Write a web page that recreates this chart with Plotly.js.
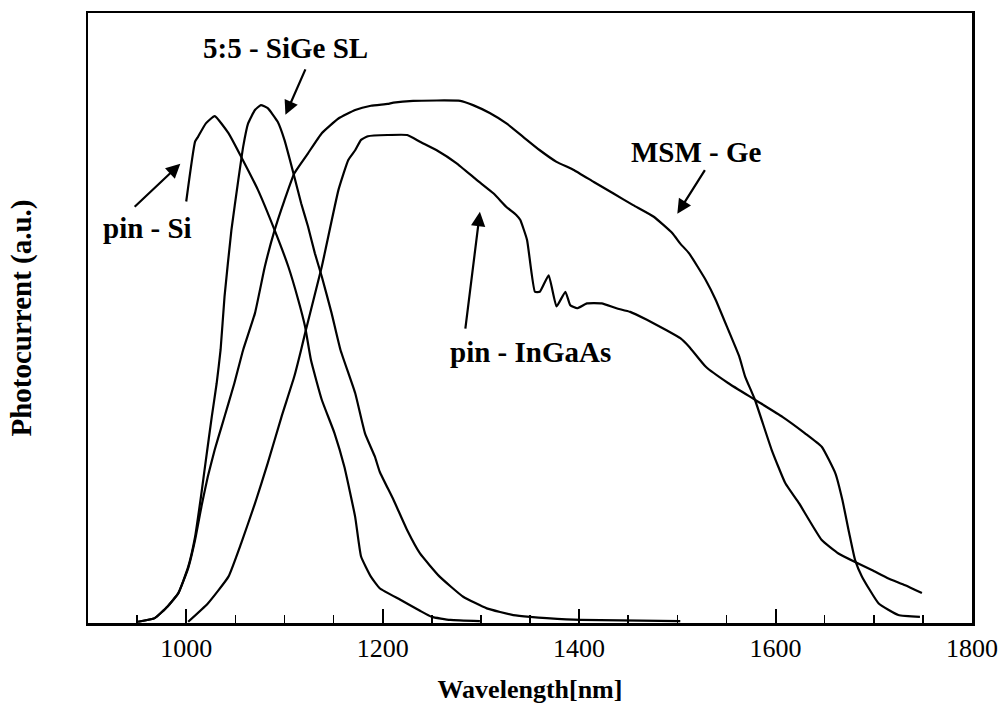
<!DOCTYPE html>
<html>
<head>
<meta charset="utf-8">
<script src="https://cdn.plot.ly/plotly-3.0.1.min.js"></script>
<style>
html,body{margin:0;padding:0;background:#fff;}
#wrap{position:relative;width:1004px;height:722px;}
#chart,#labels{position:absolute;left:0;top:0;width:1004px;height:722px;}
#labels{pointer-events:none;}
</style>
</head>
<body>
<div id="wrap"><div id="chart"></div><div id="labels"></div></div>
<script>
// pin - Si
const pinSiX = [1000,1009,1012,1020,1029,1043,1056,1073,1090,1104,1114,1121,1127,1138,1151,1161,1172,1178,1188,1197,1218,1238,1250,1269,1299];
const pinSiY = [69.1,78.9,79.7,81.9,83.1,80.3,76.4,71.0,64.4,58.4,53.0,48.6,43.1,36.6,31.1,25.6,17.4,10.9,7.6,5.7,3.8,2.0,1.0,0.5,0.3];

// 5:5 - SiGe SL
const sigeX = [951,968,981,992,1002,1009,1015,1020,1026,1031,1035,1039,1046,1053,1058,1063,1070,1076,1083,1093,1100,1110,1117,1124,1131,1138,1148,1157,1172,1182,1192,1197,1211,1225,1238,1258,1282,1306,1333,1350,1367,1401,1503];
const sigeY = [0.2,0.8,2.7,4.9,9.2,14.1,20.7,26.7,33.8,39.3,44.8,53.5,64.4,72.6,78.1,81.9,84.1,84.9,84.4,82.2,79.2,73.2,68.8,65.0,60.6,56.8,50.8,44.8,37.7,31.1,27.3,24.8,20.2,15.2,11.4,7.6,4.3,2.4,1.3,1.0,0.8,0.5,0.3];

// MSM - Ge
const msmX = [951,968,981,992,1002,1009,1016,1022,1029,1036,1043,1049,1058,1070,1080,1090,1100,1110,1124,1138,1155,1172,1188,1205,1211,1231,1279,1292,1309,1326,1343,1360,1377,1394,1415,1435,1455,1476,1495,1503,1512,1529,1539,1552,1563,1569,1579,1596,1610,1624,1647,1664,1681,1698,1715,1732,1749];
const msmY = [0.2,0.8,2.7,4.9,9.0,13.6,19.5,24.0,28.4,32.2,36.0,39.3,44.8,50.8,58.4,64.4,69.3,73.7,77.0,80.3,82.7,84.1,84.8,85.1,85.3,85.6,85.6,84.9,83.6,81.9,79.7,77.5,75.6,74.3,72.3,70.4,68.5,66.6,63.9,62.2,60.6,56.2,53.0,48.0,43.7,40.4,36.6,28.4,22.9,19.6,13.6,11.4,10.0,8.7,7.3,6.2,4.9];

// pin - InGaAs
const ingaasX = [1002,1022,1043,1056,1070,1083,1097,1110,1117,1121,1138,1155,1165,1172,1178,1185,1205,1225,1238,1255,1275,1296,1313,1326,1336,1340,1347,1355,1360,1369,1377,1386,1391,1398,1408,1423,1438,1452,1469,1489,1503,1512,1529,1552,1579,1607,1630,1647,1661,1668,1675,1681,1688,1705,1725,1747];
const ingaasY = [0.2,3.2,7.6,13.1,19.6,26.2,33.8,40.4,44.8,47.5,58.4,71.0,75.9,77.5,79.2,79.8,80.0,80.0,78.9,77.5,75.4,72.6,70.4,68.2,66.9,66.1,62.8,54.3,54.3,57.0,51.9,54.3,52.1,51.6,52.4,52.4,51.6,51.0,49.7,48.0,46.7,45.3,42.0,39.3,36.6,33.8,31.1,28.9,24.5,20.2,14.7,10.3,7.6,3.2,1.3,1.0];

const xTickVals = [1000,1200,1400,1600,1800];
const xTickText = ['1000','1200','1400','1600','1800'];

const seriesNames = ['pin - Si','5:5 - SiGe SL','MSM - Ge','pin - InGaAs'];
const seriesX = [pinSiX, sigeX, msmX, ingaasX];
const seriesY = [pinSiY, sigeY, msmY, ingaasY];

// label text, label position, arrow head, arrow tail (data units)
const labelText = ['5:5 - SiGe SL','pin - Si','MSM - Ge','pin - InGaAs'];
const labelX = [1101, 961, 1520, 1350];
const labelY = [94.3, 64.8, 77.2, 44.4];
const headX = [1101, 994, 1500, 1299];
const headY = [83.3, 75.3, 67.1, 67.4];
const tailX = [1122, 946, 1529, 1284];
const tailY = [91, 68, 74.5, 48];

const traces = seriesNames.map((n,i)=>({
  x: seriesX[i], y: seriesY[i], name: n, mode:'lines',
  line:{color:'#000', width:2.2, shape:'spline', smoothing:0.4}
}));

const serif = 'Liberation Serif, Times New Roman, serif';
const margin = {l:88, r:32, t:13, b:99};
const xRange = [900,1800], yRange = [0,100];

const layout = {
  width:1004, height:722,
  margin: margin,
  showlegend:false,
  font:{family:serif, color:'#000'},
  xaxis:{
    range:xRange, gridcolor:'rgba(0,0,0,0)',
    showline:true, mirror:true, linecolor:'#000', linewidth:2.5,
    ticks:'inside', ticklen:14, tickwidth:2, tickcolor:'#000',
    tickmode:'array', tickvals:xTickVals, ticktext:xTickText,
    tickfont:{family:serif, size:26, color:'#000'},
    minor:{dtick:50, ticks:'inside', ticklen:8, tickwidth:1.6, tickcolor:'#000', gridcolor:'rgba(0,0,0,0)'},
    title:{text:'<b>Wavelength[nm]</b>', font:{family:serif, size:26, color:'#000'}, standoff:18}
  },
  yaxis:{
    range:yRange, gridcolor:'rgba(0,0,0,0)',
    showline:true, mirror:true, linecolor:'#000', linewidth:2.5,
    showticklabels:false,
    title:{text:'<b>Photocurrent (a.u.)</b>', font:{family:serif, size:29, color:'#000'}, standoff:46}
  }
};

Plotly.newPlot('chart', traces, layout, {staticPlot:true});

// labels and arrows drawn on a transparent overlay with identical axes
const labFont = {family:serif, size:29, color:'#000'};
const annotations = [];
labelText.forEach((t,i)=>{
  annotations.push({text:'<b>'+t+'</b>', xref:'x', yref:'y', x:labelX[i], y:labelY[i], showarrow:false, font:labFont});
  annotations.push({text:'', xref:'x', yref:'y', x:headX[i], y:headY[i], ax:tailX[i], ay:tailY[i], axref:'x', ayref:'y',
    showarrow:true, arrowhead:2, arrowsize:1.3, arrowwidth:2.2, arrowcolor:'#000'});
});
const overlayLayout = {
  width:1004, height:722, margin: margin, showlegend:false,
  paper_bgcolor:'rgba(0,0,0,0)', plot_bgcolor:'rgba(0,0,0,0)',
  xaxis:{range:xRange, visible:false}, yaxis:{range:yRange, visible:false},
  annotations: annotations
};
Plotly.newPlot('labels', [], overlayLayout, {staticPlot:true});
</script>
</body>
</html>
